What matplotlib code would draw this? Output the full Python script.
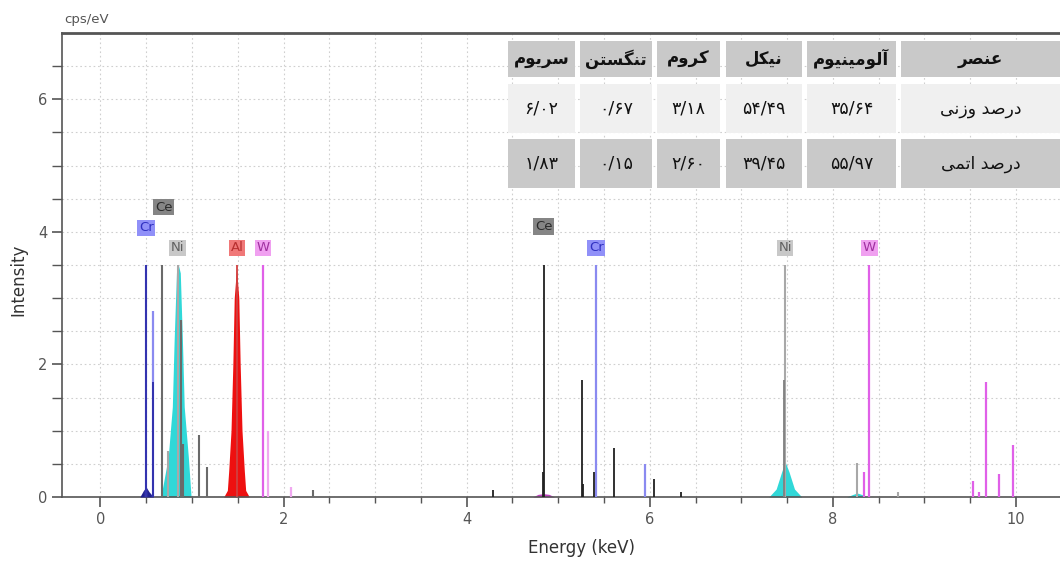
import matplotlib
matplotlib.use("Agg")
import matplotlib.pyplot as plt
from matplotlib.patches import Rectangle

# ---- spectrum data (energy keV, intensity cps/eV) ----
cr_e = [0.50, 0.573, 5.414, 5.946]
cr_h = [3.5, 2.8, 3.5, 0.5]
cr_dark_e = [0.50, 0.578]
cr_dark_h = [3.5, 1.74]

ce_low_e = [0.667, 0.883, 0.902, 1.075, 1.16, 2.32]
ce_low_h = [3.5, 2.67, 0.8, 0.93, 0.45, 0.1]
ce_high_e = [4.29, 4.84, 4.835, 5.262, 5.27, 5.386, 5.613, 6.05, 6.34]
ce_high_h = [0.1, 3.5, 0.38, 1.77, 0.2, 0.37, 0.74, 0.27, 0.07]

ni_e = [0.743, 0.851, 7.478, 8.265, 8.71]
ni_h = [0.7, 3.5, 3.5, 0.51, 0.07]
ni_dark_e = [7.47]
ni_dark_h = [1.77]

al_e = [1.486]
al_h = [3.5]

w_e = [1.775, 8.398, 9.672, 9.962, 8.335, 9.525, 9.818, 9.60]
w_h = [3.5, 3.5, 1.74, 0.78, 0.38, 0.24, 0.35, 0.07]
w_light_e = [1.835, 2.08]
w_light_h = [1.0, 0.15]

# fitted peaks
al_pk_x = [1.346, 1.386, 1.401, 1.426, 1.446, 1.461, 1.486, 1.511, 1.526, 1.546, 1.571, 1.586, 1.626]
al_pk_y = [0.0, 0.1, 0.4, 1.0, 2.0, 3.0, 3.45, 3.0, 2.0, 1.0, 0.4, 0.1, 0.0]
nil_pk_x = [0.66, 0.74, 0.785, 0.805, 0.83, 0.851, 0.872, 0.895, 0.915, 0.96, 0.99]
nil_pk_y = [0.0, 0.6, 1.36, 2.37, 3.38, 3.5, 3.38, 2.37, 1.36, 0.6, 0.0]
nik_pk_x = [7.30, 7.38, 7.44, 7.478, 7.52, 7.58, 7.66]
nik_pk_y = [0.0, 0.12, 0.38, 0.53, 0.38, 0.12, 0.0]
nikb_pk_x = [8.15, 8.22, 8.265, 8.31, 8.38]
nikb_pk_y = [0.0, 0.04, 0.06, 0.04, 0.0]
cr_pk_x = [0.43, 0.47, 0.50, 0.53, 0.58]
cr_pk_y = [0.0, 0.1, 0.15, 0.08, 0.0]
ce_pk_x = [4.72, 4.78, 4.84, 4.90, 4.96]
ce_pk_y = [0.0, 0.04, 0.05, 0.04, 0.0]

# element labels
lab_text = ["Cr", "Ce", "Ni", "Al", "W", "Ce", "Cr", "Ni", "W"]
lab_x = [0.50, 0.69, 0.84, 1.49, 1.775, 4.84, 5.414, 7.478, 8.398]
lab_y = [4.06, 4.37, 3.76, 3.76, 3.76, 4.08, 3.76, 3.76, 3.76]

# ---- composition table ----
elements = ["عنصر", "آلومینیوم", "نیکل", "کروم", "تنگستن", "سریوم"]
weight_pct = [35.64, 54.49, 3.18, 0.67, 6.02]
atomic_pct = [55.97, 39.45, 2.60, 0.15, 1.83]
row_names = ["درصد وزنی", "درصد اتمی"]

# minimal arabic shaping (matplotlib does no text shaping)
FORMS = {
    "ا": (0xFE8D, 0xFE8E, None, None), "آ": (0xFE81, 0xFE82, None, None),
    "د": (0xFEA9, 0xFEAA, None, None), "ر": (0xFEAD, 0xFEAE, None, None),
    "ز": (0xFEAF, 0xFEB0, None, None), "و": (0xFEED, 0xFEEE, None, None),
    "ت": (0xFE95, 0xFE96, 0xFE97, 0xFE98), "س": (0xFEB1, 0xFEB2, 0xFEB3, 0xFEB4),
    "ص": (0xFEB9, 0xFEBA, 0xFEBB, 0xFEBC), "ع": (0xFEC9, 0xFECA, 0xFECB, 0xFECC),
    "ل": (0xFEDD, 0xFEDE, 0xFEDF, 0xFEE0), "م": (0xFEE1, 0xFEE2, 0xFEE3, 0xFEE4),
    "ن": (0xFEE5, 0xFEE6, 0xFEE7, 0xFEE8), "ی": (0xFBFC, 0xFBFD, 0xFBFE, 0xFBFF),
    "ک": (0xFB8E, 0xFB8F, 0xFB90, 0xFB91), "گ": (0xFB92, 0xFB93, 0xFB94, 0xFB95),
}


def shape(s):
    out = []
    for i, ch in enumerate(s):
        if ch not in FORMS:
            out.append(ch)
            continue
        f = FORMS[ch]
        prev = s[i - 1] if i > 0 else " "
        nxt = s[i + 1] if i < len(s) - 1 else " "
        jp = prev in FORMS and FORMS[prev][2] is not None
        jn = f[2] is not None and nxt in FORMS
        if jp and jn:
            c = f[3]
        elif jp:
            c = f[1]
        elif jn:
            c = f[2]
        else:
            c = f[0]
        out.append(chr(c))
    return "".join(out[::-1])


def fa_num(v):
    s = f"{v:.2f}".replace(".", "/")
    return s.translate(str.maketrans("0123456789", "۰۱۲۳۴۵۶۷۸۹"))


W_PX, H_PX = 1060, 561
fig = plt.figure(figsize=(W_PX / 100, H_PX / 100), dpi=100)
ax = fig.add_axes([62 / W_PX, 64 / H_PX, 998 / W_PX, 464 / H_PX])

ax.set_xlim(-0.42, 10.48)
ax.set_ylim(0, 7.0)

# filled peaks
ax.fill_between(cr_pk_x, cr_pk_y, color="#202090", lw=0, zorder=3)
ax.fill_between(nil_pk_x, nil_pk_y, color="#30d8d8", lw=0, zorder=2)
ax.fill_between(nik_pk_x, nik_pk_y, color="#30d8d8", lw=0, zorder=2)
ax.fill_between(nikb_pk_x, nikb_pk_y, color="#30d8d8", lw=0, zorder=2)
ax.fill_between(al_pk_x, al_pk_y, color="#ee1010", lw=0, zorder=2)
ax.fill_between(ce_pk_x, ce_pk_y, color="#c040c0", lw=0, zorder=2)

# marker lines
ax.vlines(cr_e, 0, cr_h, colors="#8a8af0", lw=1.6, zorder=3)
ax.vlines(cr_dark_e, 0, cr_dark_h, colors="#2a2aa8", lw=1.3, zorder=4)
ax.vlines(ce_low_e, 0, ce_low_h, colors="#6a6a6a", lw=1.5, zorder=3)
ax.vlines(ce_high_e, 0, ce_high_h, colors="#202020", lw=1.3, zorder=3)
ax.vlines(ni_e, 0, ni_h, colors="#a8a8a8", lw=1.5, zorder=3)
ax.vlines(ni_dark_e, 0, ni_dark_h, colors="#808080", lw=1.3, zorder=4)
ax.vlines(al_e, 0, al_h, colors="#d04040", lw=1.3, zorder=3)
ax.vlines(w_e, 0, w_h, colors="#e060e8", lw=1.6, zorder=3)
ax.vlines(w_light_e, 0, w_light_h, colors="#f0a8f0", lw=1.6, zorder=3)

lab_style = {
    "Cr": ("#9090f8", "#3030c0"),
    "Ce": ("#858585", "#2a2a2a"),
    "Ni": ("#c8c8c8", "#606060"),
    "Al": ("#f07878", "#b83030"),
    "W": ("#f0a0f0", "#a030a0"),
}
for t, x, y in zip(lab_text, lab_x, lab_y):
    bg, fg = lab_style[t]
    ax.text(x, y, t, ha="center", va="center", fontsize=9.5, color=fg,
            zorder=5, bbox=dict(boxstyle="square,pad=0.12", fc=bg, ec="none"))

# axes styling
ax.set_xticks([0, 2, 4, 6, 8, 10])
ax.set_xticks([i * 0.5 for i in range(-0, 21)], minor=True)
ax.set_yticks([0, 2, 4, 6])
ax.set_yticks([i * 0.5 for i in range(0, 14)], minor=True)
ax.grid(which="both", linestyle=(0, (1.5, 2.5)), color="#cfcfcf", lw=0.8, zorder=0)
ax.set_axisbelow(True)
ax.tick_params(which="both", direction="out", colors="#555555", labelsize=10.5)
ax.tick_params(axis="x", which="major", length=7, width=1.2, pad=4)
ax.tick_params(axis="x", which="minor", length=4, width=1.0)
ax.tick_params(axis="y", which="both", length=7, width=1.0)
ax.tick_params(axis="y", which="major", width=1.2)
for side in ["left", "bottom", "top"]:
    ax.spines[side].set_color("#555555")
ax.spines["left"].set_linewidth(1.2)
ax.spines["bottom"].set_linewidth(1.2)
ax.spines["top"].set_linewidth(2.0)
ax.spines["right"].set_visible(False)

fig.text(64 / W_PX, 1 - 20 / H_PX, "cps/eV", va="center", ha="left",
         fontsize=9.5, color="#555555")
fig.text(18 / W_PX, 1 - 280 / H_PX, "Intensity", va="center", ha="center",
         rotation=90, fontsize=12, color="#333333")
fig.text(582 / W_PX, 1 - 548 / H_PX, "Energy (keV)", va="center", ha="center",
         fontsize=12, color="#333333")

# table cells in pixel coords (top-left origin)
col_edges = [(508, 575), (580, 652), (657, 720), (726, 802), (807, 896), (901, 1062)]
row_edges = [(41, 77), (84, 133), (139, 188)]
row_bg = ["#c9c9c9", "#f0f0f0", "#c9c9c9"]

rows = [
    [shape(e) for e in elements[::-1]],
    [fa_num(v) for v in weight_pct[::-1]] + [shape(row_names[0])],
    [fa_num(v) for v in atomic_pct[::-1]] + [shape(row_names[1])],
]

for r, (y0, y1) in enumerate(row_edges):
    for c, (x0, x1) in enumerate(col_edges):
        fig.add_artist(Rectangle((x0 / W_PX, 1 - y1 / H_PX), (x1 - x0) / W_PX,
                                 (y1 - y0) / H_PX, transform=fig.transFigure,
                                 fc=row_bg[r], ec="none", zorder=6))
        cx = (x0 + min(x1, 1060)) / 2 / W_PX
        cy = 1 - (y0 + y1) / 2 / H_PX
        fig.text(cx, cy, rows[r][c], ha="center", va="center",
                 fontsize=12 if r == 0 else 12.5,
                 fontweight="bold" if r == 0 else "normal",
                 color="#111111", zorder=7)

fig.savefig("out.png", dpi=100)
